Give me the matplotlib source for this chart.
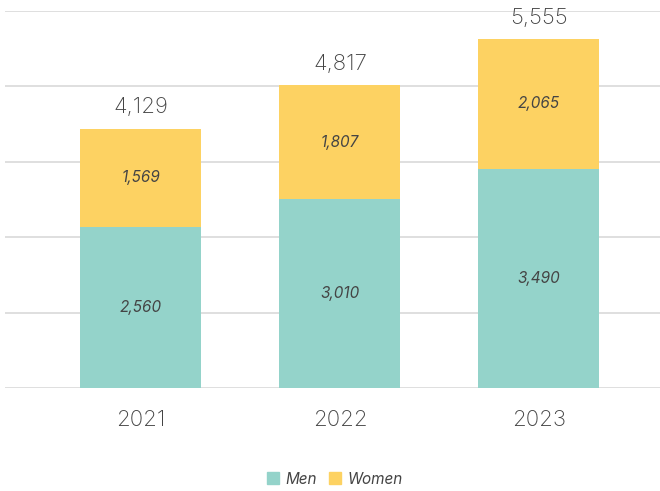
import matplotlib.pyplot as plt
import numpy as np
from matplotlib.patches import Patch

years = ["2021", "2022", "2023"]
men = [2560, 3010, 3490]
women = [1569, 1807, 2065]
totals = [4129, 4817, 5555]

teal = "#94d3ca"
yellow = "#fdd262"
txt = "#444444"

plt.rcParams["font.family"] = ["Inter", "DejaVu Sans"]

fig = plt.figure(figsize=(6.6, 4.91), dpi=100)
ax = fig.add_axes([5 / 660, 103 / 491, 655 / 660, 377 / 491])

x = np.arange(len(years))
w = 0.608
ax.bar(x, men, w, color=teal, zorder=2)
ax.bar(x, women, w, bottom=men, color=yellow, zorder=2)

for i in range(len(years)):
    ax.text(x[i], men[i] / 2, f"{men[i]:,}", ha="center", va="center",
            fontsize=11, style="italic", color=txt)
    ax.text(x[i], men[i] + women[i] / 2, f"{women[i]:,}", ha="center", va="center",
            fontsize=11, style="italic", color=txt)
    ax.text(x[i], totals[i] + 180, f"{totals[i]:,}", ha="center", va="bottom",
            fontsize=16, color=txt, fontweight="light")

ax.set_xlim(-0.683, 2.608)
ax.set_ylim(0, 6000)
ax.set_yticks(np.arange(0, 6001, 1200))
ax.yaxis.grid(True, color="#d9d9d9", linewidth=1.2, zorder=0)
ax.set_yticklabels([])
ax.tick_params(left=False, bottom=False)
ax.set_xticks(x)
ax.set_xticklabels(years, fontsize=16, color=txt, fontweight="light")
ax.tick_params(axis="x", pad=12)
for s in ax.spines.values():
    s.set_visible(False)

handles = [Patch(color=teal, label="Men"), Patch(color=yellow, label="Women")]
fig.legend(handles=handles, loc="center", bbox_to_anchor=(335 / 660, 1 - 479 / 491),
           ncol=2, frameon=False, handlelength=0.8, handleheight=0.8,
           handletextpad=0.4, columnspacing=0.8,
           prop={"size": 11, "style": "italic"}, labelcolor=txt)

fig.savefig("out.png", dpi=100)
